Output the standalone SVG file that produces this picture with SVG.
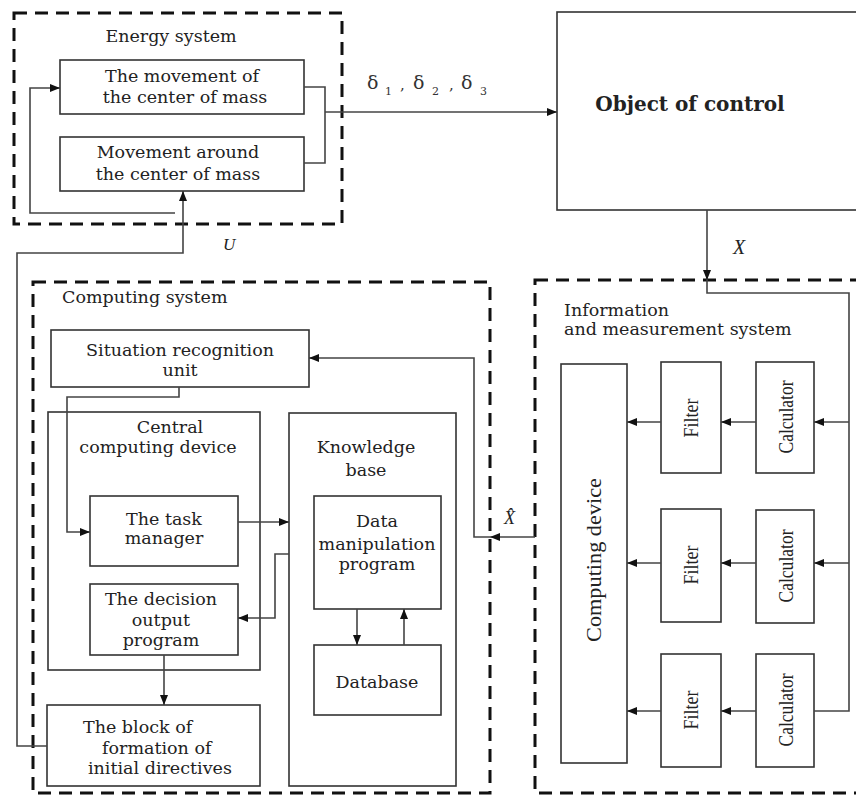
<svg xmlns="http://www.w3.org/2000/svg" width="856" height="796" viewBox="0 0 856 796">
<style>
.bg{fill:#fff}
.box{fill:#fff;stroke:#333;stroke-width:1.6}
.dash{fill:none;stroke:#111;stroke-width:3;stroke-dasharray:13 8}
.ln{fill:none;stroke:#444;stroke-width:1.6}
.t{font-family:"DejaVu Serif","Liberation Serif",serif;font-size:17.5px;fill:#222;text-anchor:middle}
.ts{font-family:"DejaVu Serif","Liberation Serif",serif;font-size:17.5px;fill:#222}
.v{font-family:"Liberation Serif",serif;font-size:22px;fill:#222;text-anchor:middle}
.it{font-family:"Liberation Serif",serif;font-style:italic;fill:#222}
.d{font-family:"DejaVu Serif",serif;fill:#333}
</style>
<defs>
<marker id="ah" viewBox="0 0 10 8" refX="10" refY="4" markerWidth="11" markerHeight="8" markerUnits="userSpaceOnUse" orient="auto"><path d="M0,0 L10,4 L0,8 z" fill="#111"/></marker>
</defs>
<rect class="bg" x="0" y="0" width="856" height="796"/>

<g id="energy-system">
<rect class="dash" x="14" y="13" width="328" height="211"/>
<text class="t" x="171" y="42">Energy system</text>
</g>
<g id="movement-center">
<rect class="box" x="60" y="60" width="244" height="54"/>
<text class="t" x="182" y="82">The movement of</text>
<text class="t" x="185" y="103">the center of mass</text>
</g>
<g id="movement-around">
<rect class="box" x="60" y="137" width="244" height="54"/>
<text class="t" x="178" y="158">Movement around</text>
<text class="t" x="178" y="180">the center of mass</text>
</g>
<g id="object-of-control">
<rect class="box" x="557" y="12" width="310" height="198"/>
<text class="t" x="690" y="111" style="font-size:20px;font-weight:bold">Object of control</text>
</g>

<g id="computing-system">
<rect class="dash" x="33" y="282" width="457" height="511"/>
<text class="ts" x="62" y="303">Computing system</text>
</g>
<g id="situation-recognition">
<rect class="box" x="51" y="330" width="258" height="57"/>
<text class="t" x="180" y="356">Situation recognition</text>
<text class="t" x="180" y="376">unit</text>
</g>
<g id="central-computing">
<rect class="box" x="48" y="412" width="212" height="258"/>
<text class="t" x="170" y="433">Central</text>
<text class="t" x="158" y="453">computing device</text>
</g>
<g id="task-manager">
<rect class="box" x="90" y="496" width="148" height="70"/>
<text class="t" x="164" y="525">The task</text>
<text class="t" x="164" y="544">manager</text>
</g>
<g id="decision-output">
<rect class="box" x="90" y="584" width="148" height="71"/>
<text class="t" x="161" y="605">The decision</text>
<text class="t" x="161" y="626">output</text>
<text class="t" x="161" y="646">program</text>
</g>
<g id="block-formation">
<rect class="box" x="47" y="705" width="213" height="81"/>
<text class="ts" x="83" y="733">The block of</text>
<text class="ts" x="102" y="754">formation of</text>
<text class="ts" x="88" y="774">initial directives</text>
</g>
<g id="knowledge-base">
<rect class="box" x="289" y="413" width="167" height="373"/>
<text class="t" x="366" y="453">Knowledge</text>
<text class="t" x="366" y="476">base</text>
</g>
<g id="data-manipulation">
<rect class="box" x="314" y="496" width="127" height="113"/>
<text class="t" x="377" y="527">Data</text>
<text class="t" x="377" y="550">manipulation</text>
<text class="t" x="377" y="570">program</text>
</g>
<g id="database">
<rect class="box" x="314" y="645" width="127" height="70"/>
<text class="t" x="377" y="688">Database</text>
</g>

<g id="information-system">
<rect class="dash" x="535" y="280" width="340" height="513"/>
<text class="ts" x="564" y="316">Information</text>
<text class="ts" x="564" y="335">and measurement system</text>
</g>
<g id="computing-device">
<rect class="box" x="561" y="364" width="66" height="399"/>
<text class="v" transform="translate(601,560) rotate(-90)" textLength="164" lengthAdjust="spacingAndGlyphs">Computing device</text>
</g>
<g id="filter-1">
<rect class="box" x="661" y="362" width="60" height="111"/>
<text class="v" transform="translate(698,418) rotate(-90)" textLength="39" lengthAdjust="spacingAndGlyphs">Filter</text>
</g>
<g id="filter-2">
<rect class="box" x="661" y="509" width="60" height="113"/>
<text class="v" transform="translate(698,565) rotate(-90)" textLength="39" lengthAdjust="spacingAndGlyphs">Filter</text>
</g>
<g id="filter-3">
<rect class="box" x="661" y="654" width="60" height="113"/>
<text class="v" transform="translate(698,710) rotate(-90)" textLength="39" lengthAdjust="spacingAndGlyphs">Filter</text>
</g>
<g id="calculator-1">
<rect class="box" x="756" y="362" width="58" height="111"/>
<text class="v" transform="translate(793,417) rotate(-90)" textLength="73" lengthAdjust="spacingAndGlyphs">Calculator</text>
</g>
<g id="calculator-2">
<rect class="box" x="756" y="510" width="58" height="113"/>
<text class="v" transform="translate(793,566) rotate(-90)" textLength="73" lengthAdjust="spacingAndGlyphs">Calculator</text>
</g>
<g id="calculator-3">
<rect class="box" x="756" y="654" width="58" height="113"/>
<text class="v" transform="translate(793,710) rotate(-90)" textLength="73" lengthAdjust="spacingAndGlyphs">Calculator</text>
</g>

<g id="connectors">
<path class="ln" d="M304,87 H325 V163 H304"/>
<path class="ln" d="M325,112 H557" marker-end="url(#ah)"/>
<path class="ln" d="M175,213 H30 V88 H60" marker-end="url(#ah)"/>
<path class="ln" d="M47,746 H17 V253 H183 V191" marker-end="url(#ah)"/>
<path class="ln" d="M707,210 V280" marker-end="url(#ah)"/>
<path class="ln" d="M707,280 V293 H849 V711 H814"/>
<path class="ln" d="M849,422 H814" marker-end="url(#ah)"/>
<path class="ln" d="M849,563 H814" marker-end="url(#ah)"/>
<path class="ln" d="M756,422 H721" marker-end="url(#ah)"/>
<path class="ln" d="M756,563 H721" marker-end="url(#ah)"/>
<path class="ln" d="M756,711 H721" marker-end="url(#ah)"/>
<path class="ln" d="M661,422 H627" marker-end="url(#ah)"/>
<path class="ln" d="M661,563 H627" marker-end="url(#ah)"/>
<path class="ln" d="M661,711 H627" marker-end="url(#ah)"/>
<path class="ln" d="M535,537 H490" marker-end="url(#ah)"/>
<path class="ln" d="M490,537 H474 V358 H309" marker-end="url(#ah)"/>
<path class="ln" d="M179,387 V397 H67 V532 H90" marker-end="url(#ah)"/>
<path class="ln" d="M238,522 H289" marker-end="url(#ah)"/>
<path class="ln" d="M289,554 H275 V618 H238" marker-end="url(#ah)"/>
<path class="ln" d="M164,655 V705" marker-end="url(#ah)"/>
<path class="ln" d="M357,609 V645" marker-end="url(#ah)"/>
<path class="ln" d="M404,645 V609" marker-end="url(#ah)"/>
</g>

<g id="labels">
<text class="it" x="223" y="250" style="font-size:17px">U</text>
<text class="it" x="733" y="254" style="font-size:20px">X</text>
<text class="it" x="504" y="524" style="font-size:18px">X&#x0302;</text>
<text class="d" x="367" y="89" style="font-size:19px">δ</text>
<text class="d" x="385" y="95" style="font-size:11px">1</text>
<text class="d" x="400" y="90" style="font-size:15px">,</text>
<text class="d" x="413" y="89" style="font-size:19px">δ</text>
<text class="d" x="432" y="95" style="font-size:11px">2</text>
<text class="d" x="449" y="90" style="font-size:15px">,</text>
<text class="d" x="461" y="89" style="font-size:19px">δ</text>
<text class="d" x="480" y="95" style="font-size:11px">3</text>
</g>
</svg>
